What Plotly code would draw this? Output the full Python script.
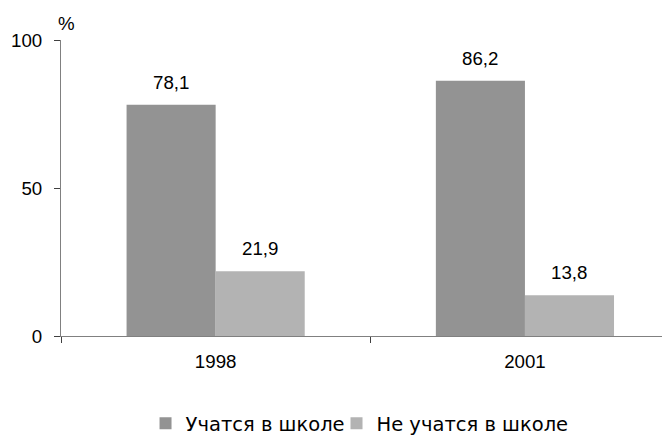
import plotly.graph_objects as go

years = ["1998", "2001"]
in_school = [78.1, 86.2]
not_in_school = [21.9, 13.8]
series_names = ["Учатся в школе", "Не учатся в школе"]
y_ticks = [0, 50, 100]

dark = "#939393"
light = "#b3b3b3"
font = dict(family="Liberation Sans, Arial", size=18.7, color="#000000")
legend_font = dict(family="DejaVu Sans", size=19.5, color="#000000")

fig = go.Figure()
fig.add_bar(x=years, y=in_school, name=series_names[0], legend="legend",
            marker=dict(color=dark, line=dict(width=0)))
fig.add_bar(x=years, y=not_in_school, name=series_names[1], legend="legend2",
            marker=dict(color=light, line=dict(width=0)))

bw = (1 - 0.424) / 2
for i, (a, b) in enumerate(zip(in_school, not_in_school)):
    for off, v in ((-bw / 2, a), (bw / 2, b)):
        fig.add_annotation(x=i + off, y=v, xref="x", yref="y", text=f"{v:.1f}".replace(".", ","),
                           showarrow=False, yanchor="bottom", yshift=10, font=font)

fig.add_annotation(x=0.0, y=1.0, xref="paper", yref="paper", text="%", showarrow=False,
                   xanchor="center", yanchor="middle", xshift=5.7, yshift=17, font=font)

leg_common = dict(orientation="h", yanchor="middle", y=-0.296, xanchor="left",
                  font=legend_font, itemwidth=30, bgcolor="rgba(0,0,0,0)")

fig.update_layout(
    width=670, height=436,
    margin=dict(l=53, r=8, t=32, b=108, autoexpand=False),
    paper_bgcolor="white", plot_bgcolor="white",
    barmode="group", bargap=0.424, bargroupgap=0,
    font=font,
    showlegend=True,
    legend=dict(x=0.1388, **leg_common),
    legend2=dict(x=0.4524, **leg_common),
    xaxis=dict(type="category", range=[-0.5, 1.469], showline=True, linecolor="#808080", linewidth=1,
               ticks="outside", tickson="boundaries", ticklen=6, tickcolor="#404040",
               showgrid=False, zeroline=False, ticklabelstandoff=9),
    yaxis=dict(range=[0, 100], tickvals=y_ticks, showline=True, linecolor="#808080", linewidth=1,
               ticks="outside", ticklen=6, tickcolor="#404040", showgrid=False, zeroline=False,
               ticklabelstandoff=8),
)

fig.write_html("out.html")
